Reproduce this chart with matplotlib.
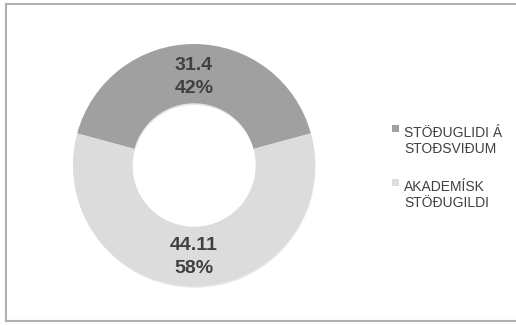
import matplotlib
matplotlib.use("Agg")
import matplotlib.pyplot as plt
from matplotlib.lines import Line2D
from matplotlib.patches import Rectangle, Wedge

labels = ["STÖÐUGLIDI Á\nSTOÐSVIÐUM", "AKADEMÍSK\nSTÖÐUGILDI"]
values = [31.4, 44.11]
colors = ["#a0a0a0", "#dcdcdc"]

plt.rcParams["font.family"] = ["Liberation Sans", "DejaVu Sans"]

W, H = 516, 325
fig = plt.figure(figsize=(W / 100, H / 100), dpi=100)


def px(x, y):
    # pixel position (from top-left) -> figure fraction
    return x / W, 1 - y / H


# chart frame (left, top, bottom edges visible)
frame = "#b0b0b0"
for (x0, y0), (x1, y1) in [((6, 4), (6, 321)), ((6, 4), (W, 4)), ((6, 321), (W, 321))]:
    fig.add_artist(Line2D(*zip(px(x0, y0), px(x1, y1)), color=frame, lw=1.5))

# donut: center ~(194,165), radius ~121 px
r = 121
cx, cy = 194, 165
ax = fig.add_axes([(cx - r) / W, 1 - (cy + r) / H, 2 * r / W, 2 * r / H])
ax.set_xlim(-1, 1)
ax.set_ylim(-1, 1)
ax.set_aspect("equal")
ax.axis("off")

# soft shadow behind the ring
ax.add_patch(Wedge((0.004, -0.014), 1.0, 0, 360, width=0.49, facecolor="#cccccc",
                   edgecolor="none", alpha=0.5, zorder=0, clip_on=False))

total = sum(values)
start = 90 + values[0] / total * 360 / 2
ax.pie(values, colors=colors, startangle=start, counterclock=False,
       radius=1.0, wedgeprops=dict(width=0.49, linewidth=0))
ax.set_xlim(-1, 1)
ax.set_ylim(-1, 1)

# data labels (value + percent), baselines in pixels
label_base = [(70, 93), (250, 273)]
for v, (b1, b2) in zip(values, label_base):
    for txt, b in [(f"{v}", b1), (f"{v / total:.0%}", b2)]:
        fig.text(*px(cx, b), txt, ha="center", va="baseline", fontsize=14,
                 fontweight="bold", color="#404040")

# legend
leg_top = [125, 179]
for lab, c, top in zip(labels, colors, leg_top):
    sx, sy = px(392, top + 7)
    fig.add_artist(Rectangle((sx, sy), 7 / W, 7 / H, facecolor=c, edgecolor="none",
                             transform=fig.transFigure))
    for k, line in enumerate(lab.split("\n")):
        fig.text(*px(404, top + 12 + 16 * k), line, ha="left", va="baseline",
                 fontsize=10, color="#404040")

fig.savefig("out.png", dpi=100)
